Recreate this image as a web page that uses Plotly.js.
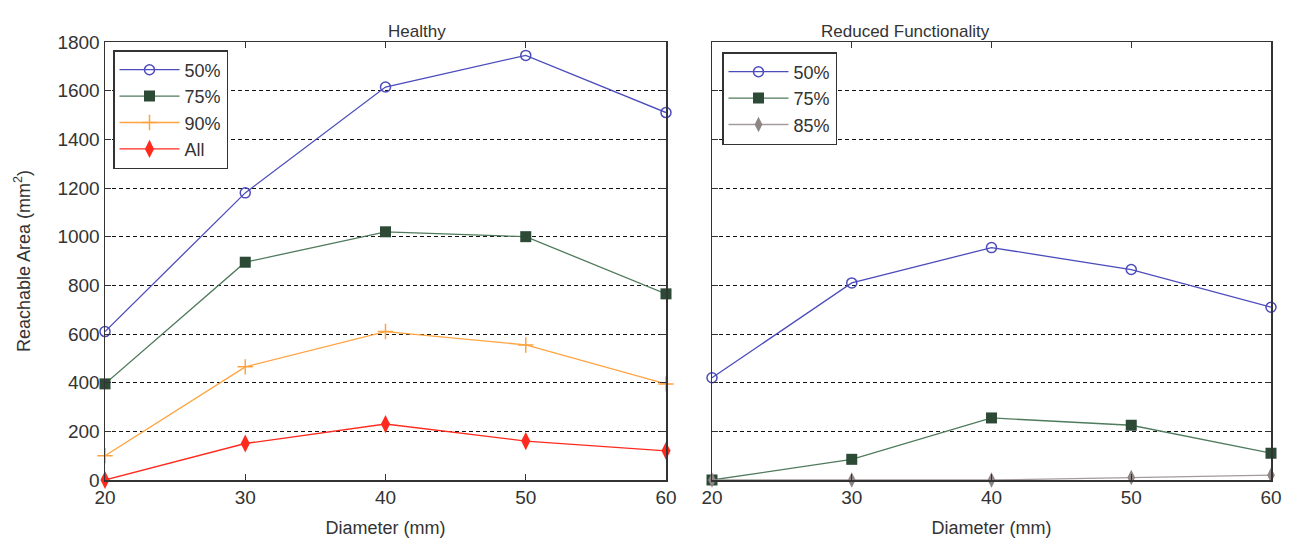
<!DOCTYPE html>
<html><head><meta charset="utf-8">
<script src="https://cdn.plot.ly/plotly-3.0.1.min.js"></script>
<style>body{margin:0}#c{width:1291px;height:545px}</style>
</head><body><div id="c"></div>
<script>
const diameters = [20, 30, 40, 50, 60];
const healthy50 = [610, 1180, 1615, 1745, 1510];
const healthy75 = [395, 895, 1020, 1000, 765];
const healthy90 = [100, 465, 610, 555, 395];
const healthyAll = [0, 150, 230, 160, 120];
const reduced50 = [420, 810, 955, 865, 710];
const reduced75 = [0, 85, 255, 225, 110];
const reduced85 = [0, 0, 0, 10, 20];

const cBlue = '#4c4cbc', cGreenLine = '#4f7a5c', cGreenMk = '#2c4a36', cOrange = '#ffa340', cRed = '#ff2a1e', cGray = '#a39a9a';

function tr(y, name, xa, ya, leg, line, marker) {
  return {x: diameters, y: y, name: name, xaxis: xa, yaxis: ya, legend: leg, type: 'scatter', mode: 'lines+markers',
    line: line, marker: marker, cliponaxis: false};
}
const data = [
  tr(healthy50, '50%', 'x', 'y', 'legend', {color: cBlue, width: 1.3}, {symbol: 'circle-open', size: 10, color: cBlue, line: {width: 1.5, color: cBlue}}),
  tr(healthy75, '75%', 'x', 'y', 'legend', {color: cGreenLine, width: 1.3}, {symbol: 'square', size: 11, color: cGreenMk}),
  tr(healthy90, '90%', 'x', 'y', 'legend', {color: cOrange, width: 1.3}, {symbol: 'cross-thin-open', size: 11, color: cOrange, line: {width: 1.5, color: cOrange}}),
  tr(healthyAll, 'All', 'x', 'y', 'legend', {color: cRed, width: 1.3}, {symbol: 'diamond-tall', size: 13, color: cRed}),
  tr(reduced50, '50%', 'x2', 'y2', 'legend2', {color: cBlue, width: 1.3}, {symbol: 'circle-open', size: 10, color: cBlue, line: {width: 1.5, color: cBlue}}),
  tr(reduced75, '75%', 'x2', 'y2', 'legend2', {color: cGreenLine, width: 1.3}, {symbol: 'square', size: 11, color: cGreenMk}),
  tr(reduced85, '85%', 'x2', 'y2', 'legend2', {color: cGray, width: 1.3}, {symbol: 'diamond-tall', size: 11, color: '#8f8585'})
];

const font = {family: 'Liberation Sans, Arial, sans-serif', size: 19, color: '#333'};
const legFont = {family: font.family, size: 18, color: '#333'};
const xBase = {range: [20, 60], dtick: 10, tick0: 20, ticks: 'inside', ticklen: 6, tickcolor: '#333', showline: true, linecolor: '#333', linewidth: 1.5, mirror: 'ticks', showgrid: false, zeroline: false, tickfont: font,
  title: {text: 'Diameter (mm)', font: {family: font.family, size: 18, color: '#333'}, standoff: 14}};
const yBase = {range: [0, 1800], dtick: 200, ticks: 'inside', ticklen: 6, tickcolor: '#333', showline: true, linecolor: '#333', linewidth: 1.5, mirror: 'ticks', showgrid: true, gridcolor: '#111', griddash: '4px,3px', gridwidth: 1, zeroline: false, tickfont: font,
  domain: [1 - 480 / 545, 1 - 42 / 545]};

const layout = {
  width: 1291, height: 545, margin: {l: 0, r: 0, t: 0, b: 0},
  paper_bgcolor: '#fff', plot_bgcolor: '#fff', font: font,
  xaxis: Object.assign({}, xBase, {domain: [105 / 1291, 666 / 1291], anchor: 'y'}),
  yaxis: Object.assign({}, yBase, {anchor: 'x', title: {text: 'Reachable Area (mm<sup>2</sup>)', font: {family: font.family, size: 18, color: '#333'}, standoff: 22}}),
  xaxis2: Object.assign({}, xBase, {domain: [712 / 1291, 1271 / 1291], anchor: 'y2'}),
  yaxis2: Object.assign({}, yBase, {anchor: 'x2', showticklabels: false}),
  legend: {x: 113 / 1291, y: 1 - 50 / 545, xanchor: 'left', yanchor: 'top', bgcolor: '#fff', bordercolor: '#333', borderwidth: 1.5, font: legFont, tracegroupgap: 0, itemwidth: 60},
  legend2: {x: 722 / 1291, y: 1 - 52 / 545, xanchor: 'left', yanchor: 'top', bgcolor: '#fff', bordercolor: '#333', borderwidth: 1.5, font: legFont, tracegroupgap: 0, itemwidth: 60},
  annotations: [
    {text: 'Healthy', x: (105 + 666) / 2 / 1291, y: 1 - 20 / 545, xref: 'paper', yref: 'paper', showarrow: false, font: {family: font.family, size: 17, color: '#333'}},
    {text: 'Reduced Functionality', x: (712 + 1271) / 2 / 1291, y: 1 - 20 / 545, xref: 'paper', yref: 'paper', showarrow: false, font: {family: font.family, size: 17, color: '#333'}}
  ],
  showlegend: true
};
Plotly.newPlot('c', data, layout, {displayModeBar: false, staticPlot: true});
</script></body></html>
